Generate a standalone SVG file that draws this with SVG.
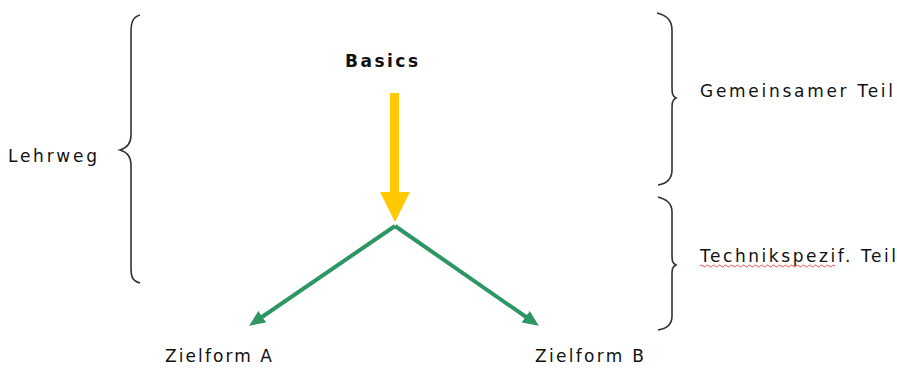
<svg xmlns="http://www.w3.org/2000/svg" width="897" height="370" viewBox="0 0 897 370">
<defs>
<style>
.t{font-family:"DejaVu Sans",Verdana,sans-serif;font-size:17px;fill:#111}
.b{font-weight:bold}
.brace{fill:none;stroke:#333;stroke-width:1.6}
.g{stroke:#2e9664;stroke-width:4;fill:none}
</style>
<marker id="ga" markerWidth="16" markerHeight="14" refX="4" refY="7" orient="auto" markerUnits="userSpaceOnUse" viewBox="0 0 16 14">
<path d="M0,0 L16,7 L0,14 Z" fill="#2e9664"/>
</marker>
</defs>
<rect width="897" height="370" fill="#fff"/>
<g id="brace-lehrweg">
<path class="brace" d="M140,15 C133,17 131,22 131,32 L131,135 C131,144 127,148 120,150 C127,152 131,156 131,165 L131,268 C131,278 133,281 140,283"/>
</g>
<g id="brace-gemeinsam">
<path class="brace" d="M657,13 C664,15 672,18 672,30 L672,85 C672,93 672,96 676,98 C672,100 672,103 672,111 L672,170 C672,181 664,184 658,185"/>
</g>
<g id="brace-technik">
<path class="brace" d="M658,197 C665,199 672,202 672,212 L672,253 C672,261 672,263 676,265 C672,267 672,269 672,277 L672,316 C672,326 665,329 658,330"/>
</g>
<g id="basics"><text class="t b" x="345" y="67" textLength="73">Basics</text></g>
<g id="lehrweg"><text class="t" x="8" y="162" textLength="89">Lehrweg</text></g>
<g id="gemeinsamer"><text class="t" x="700" y="97" textLength="193">Gemeinsamer Teil</text></g>
<g id="technikspezif">
<text class="t" x="700" y="262" textLength="196">Technikspezif. Teil</text>
<path d="M700,266 q1.5,-2 3,0 t3,0 t3,0 t3,0 t3,0 t3,0 t3,0 t3,0 t3,0 t3,0 t3,0 t3,0 t3,0 t3,0 t3,0 t3,0 t3,0 t3,0 t3,0 t3,0 t3,0 t3,0 t3,0 t3,0 t3,0 t3,0 t3,0 t3,0 t3,0 t3,0 t3,0 t3,0 t3,0 t3,0 t3,0 t3,0 t3,0 t3,0 t3,0 t3,0 t3,0 t3,0 t3,0 t3,0 t3,0" fill="none" stroke="#e03030" stroke-width="0.8"/>
</g>
<g id="zielform-a"><text class="t" x="165" y="362" textLength="107">Zielform A</text></g>
<g id="zielform-b"><text class="t" x="535" y="362" textLength="109">Zielform B</text></g>
<g id="connectors">
<rect x="390" y="93" width="9" height="100" fill="#ffc800"/>
<path d="M380,192 L410,192 L395,222 Z" fill="#ffc800"/>
<path class="g" d="M395,226 L259,319" marker-end="url(#ga)"/>
<path class="g" d="M395,226 L529,319" marker-end="url(#ga)"/>
</g>
</svg>
